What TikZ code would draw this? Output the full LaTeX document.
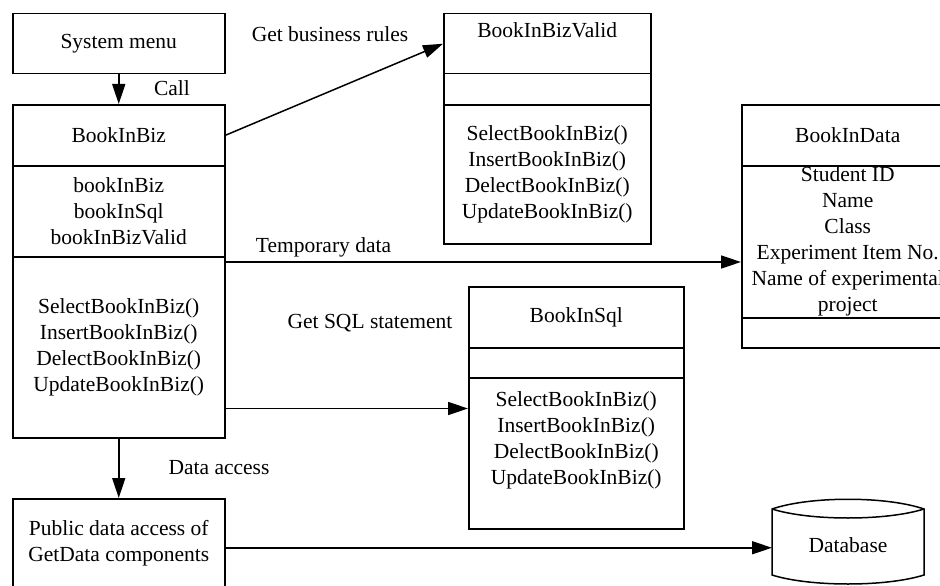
\documentclass[tikz,border=0pt]{standalone}
\usepackage{fontspec}
\setmainfont{Liberation Serif}
\usetikzlibrary{arrows.meta,calc}
\begin{document}
\begin{tikzpicture}[x=1pt,y=-1pt,
  font=\fontsize{21.5pt}{26pt}\selectfont,
  comp/.style={draw, line width=1.5pt, rectangle, inner sep=0pt, anchor=north west, align=center},
  txt/.style={inner sep=0pt, align=center},
  arr/.style={-{Triangle[length=20pt,width=13pt]}, line width=1.5pt}]
\useasboundingbox (0,0) rectangle (940,586);
\clip (0,0) rectangle (940,586);

% System menu
\node[comp, minimum width=212pt, minimum height=60pt] (sys) at (12,13) {System menu};

% BookInBiz
\node[comp, minimum width=212pt, minimum height=61pt] (bizT) at (12,104) {BookInBiz};
\node[comp, minimum width=212pt, minimum height=91pt] (bizA) at (12,165) {bookInBiz\\bookInSql\\bookInBizValid};
\node[comp, minimum width=212pt, minimum height=181pt] (bizM) at (12,256) {SelectBookInBiz()\\InsertBookInBiz()\\DelectBookInBiz()\\UpdateBookInBiz()};

% BookInBizValid
\node[comp, minimum width=207pt, minimum height=60pt] (validT) at (443,13) {};
\node[txt] (validTt) at ([yshift=14pt]validT.center) {BookInBizValid};
\node[comp, minimum width=207pt, minimum height=31pt] (validA) at (443,73) {};
\node[comp, minimum width=207pt, minimum height=139pt] (validM) at (443,104) {SelectBookInBiz()\\InsertBookInBiz()\\DelectBookInBiz()\\UpdateBookInBiz()};

% BookInData
\node[comp, minimum width=212pt, minimum height=61pt] (dataT) at (741,104) {BookInData};
\node[comp, minimum width=212pt, minimum height=152pt] (dataA) at (741,165) {Student ID\\Name\\Class\\Experiment Item No.\\Name of experimental\\project};
\node[comp, minimum width=212pt, minimum height=30pt] (dataM) at (741,317) {};

% BookInSql
\node[comp, minimum width=215pt, minimum height=61pt] (sqlT) at (468,286) {BookInSql};
\node[comp, minimum width=215pt, minimum height=30pt] (sqlA) at (468,347) {};
\node[comp, minimum width=215pt, minimum height=151pt] (sqlM) at (468,377) {};
\node[txt] (sqlMt) at ([yshift=13pt]sqlM.center) {SelectBookInBiz()\\InsertBookInBiz()\\DelectBookInBiz()\\UpdateBookInBiz()};

% Public data access
\node[comp, minimum width=212pt, minimum height=98pt] (pub) at (12,498) {};
\node[txt] (pubt) at ([yshift=5pt]pub.center) {Public data access of\\GetData components};

% Database cylinder
\draw[line width=1.5pt] (772,509) .. controls (810,496) and (886,496) .. (924,509) -- (924,575)
   .. controls (886,587) and (810,587) .. (772,575) -- cycle;
\draw[line width=1.5pt] (772,509) .. controls (810,521) and (886,521) .. (924,509);
\node[txt] (db) at (848,545) {Database};
\coordinate (dbL) at (772,547);

% Connectors
\draw[arr] (sys.south) -- (bizT.north);
\draw[arr] (bizT.east) -- (validT.west);
\coordinate (t1) at ([yshift=-6pt]bizM.north east);
\draw[arr] (t1) -- (t1 -| dataA.west);
\coordinate (s1) at ([yshift=30pt]bizM.south east);
\draw[arr] (s1) -- (s1 -| sqlM.west);
\draw[arr] (bizM.south) -- (pub.north);
\draw[arr] (pub.east) -- (pub.east -| dbL);

% Labels
\node[txt] (lcall) at (172,88) {Call};
\node[txt] (lrules) at (330,34) {Get business rules};
\node[txt] (ltemp) at (323.5,247) {Temporary data};
\node[txt] (lsql) at (370,323) {Get SQL statement};
\node[txt] (lacc) at (219,468) {Data access};
\end{tikzpicture}
\end{document}
